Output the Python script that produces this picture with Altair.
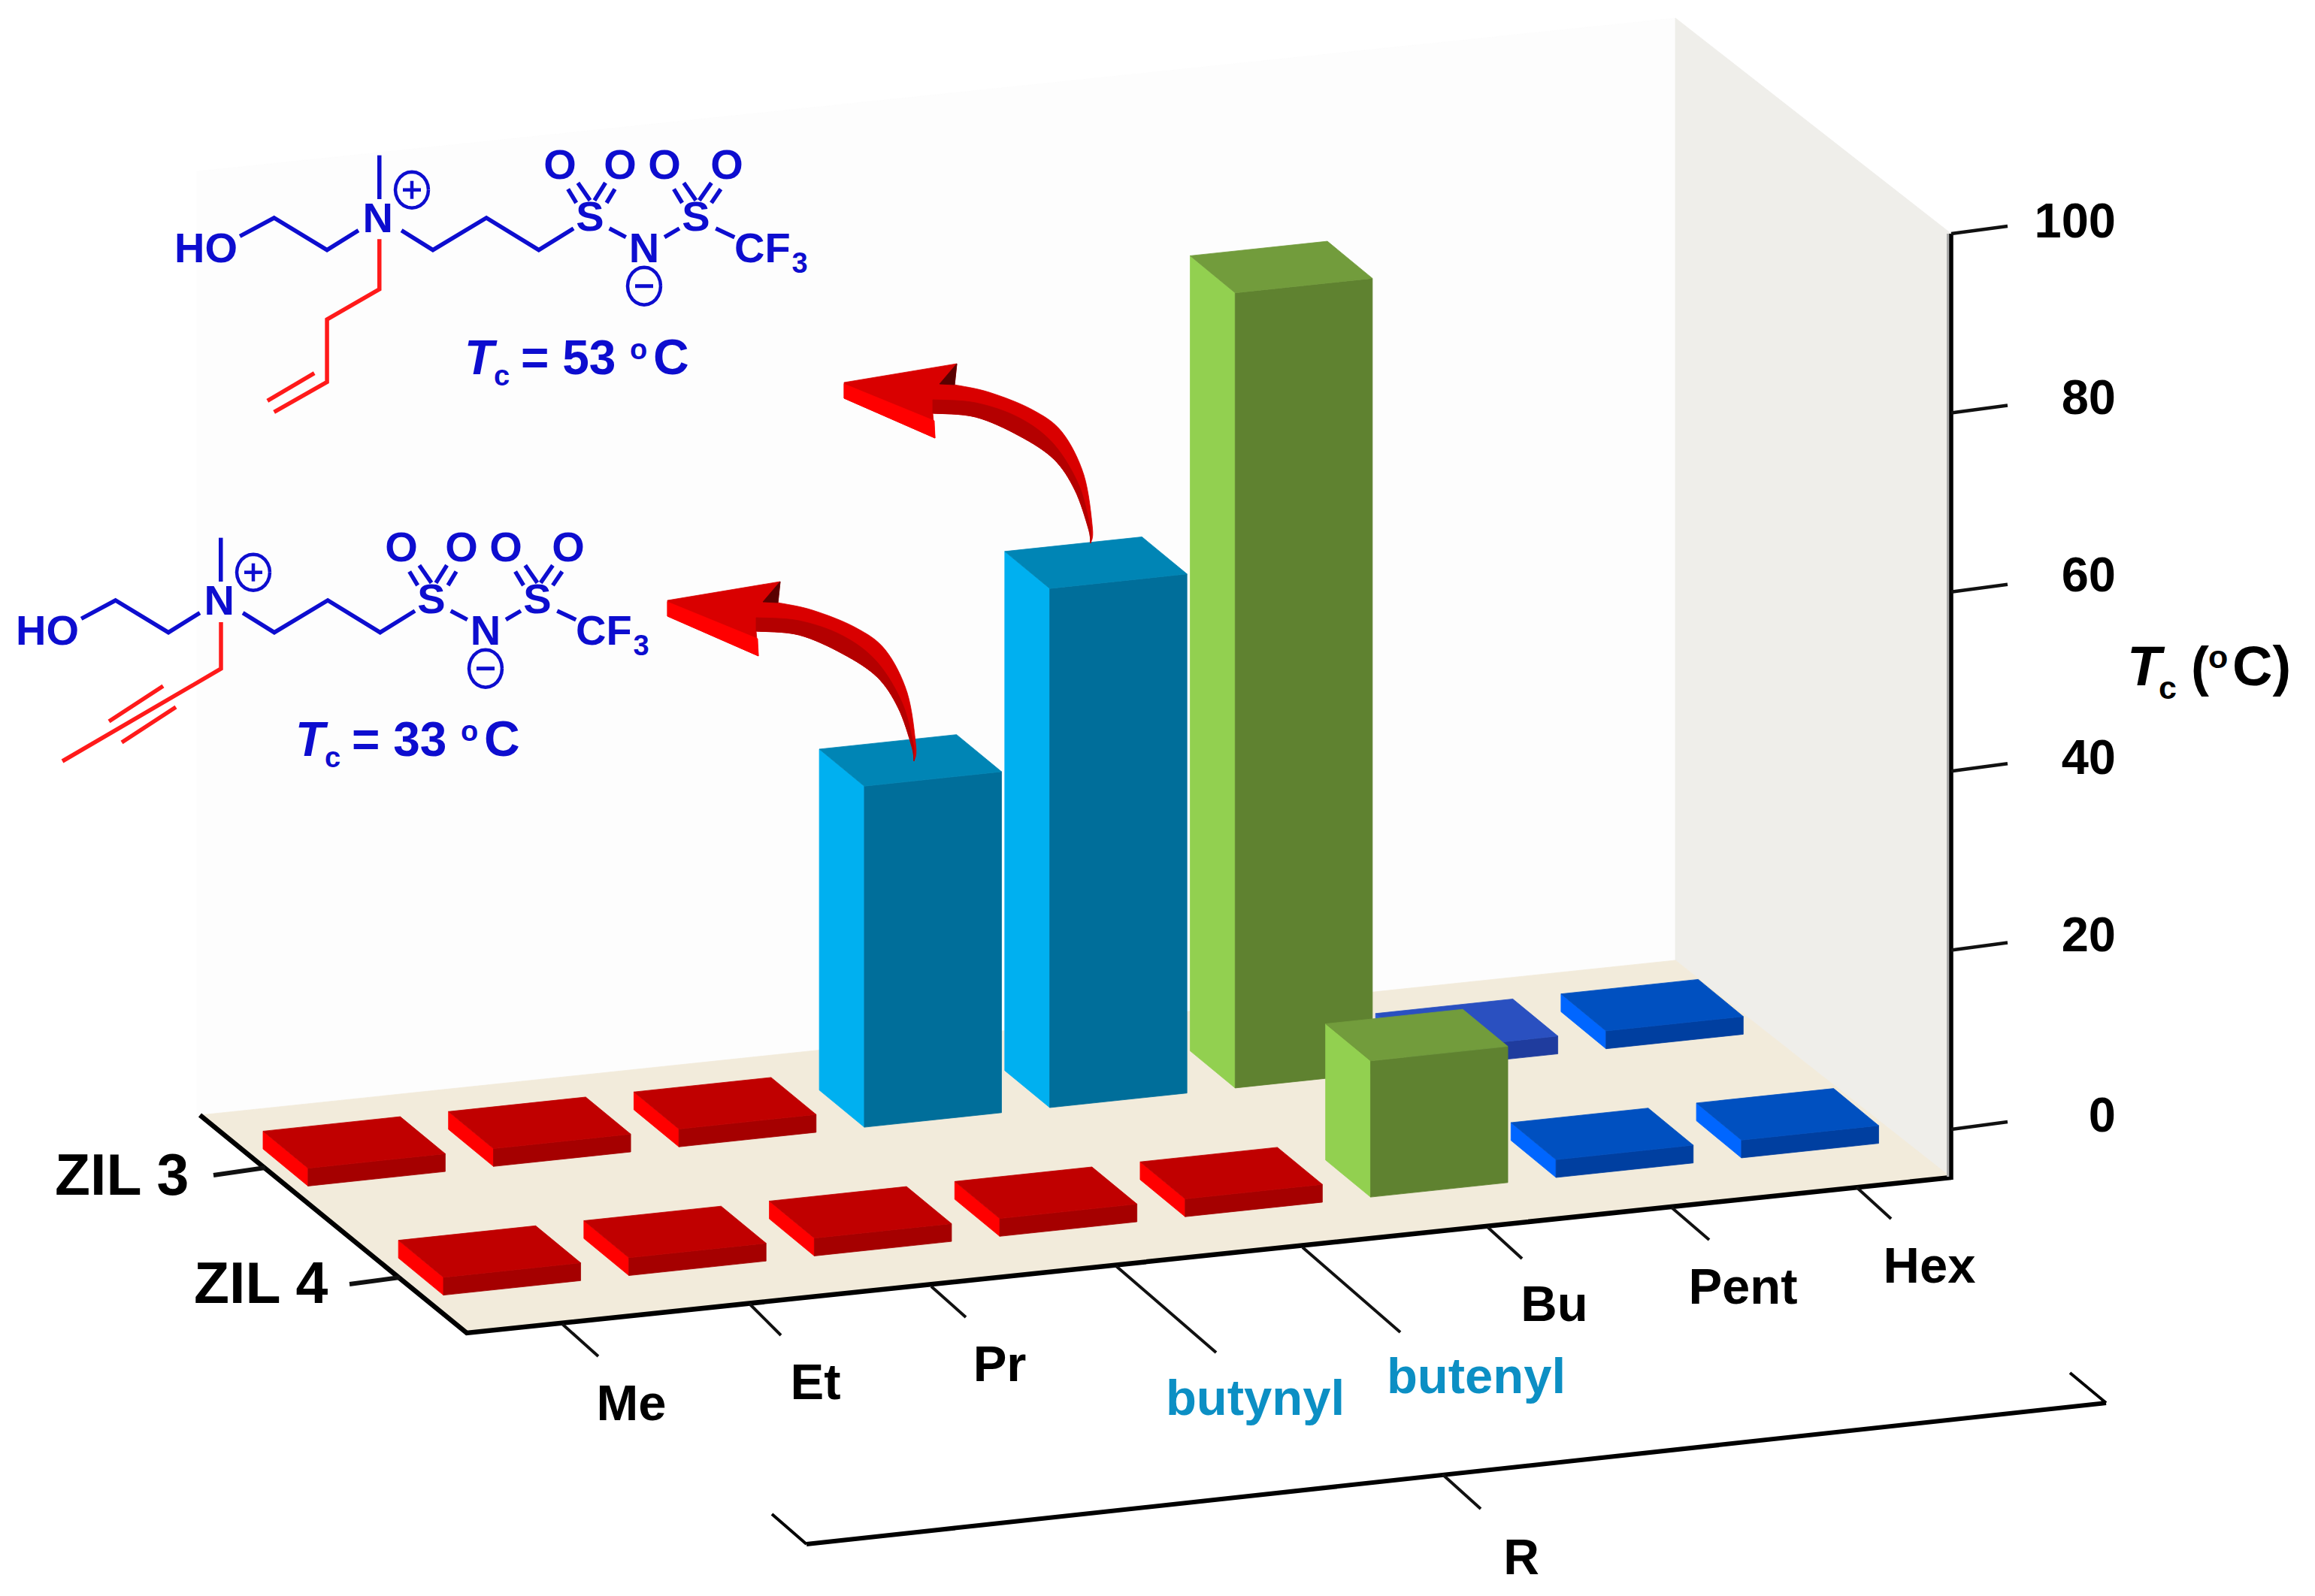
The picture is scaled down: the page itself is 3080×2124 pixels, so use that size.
import altair as alt

W, H = 3064, 2108
FONT = "Liberation Sans"

# ---------- chart values ----------
CATEGORIES = ["Me", "Et", "Pr", "butynyl", "butenyl", "Bu", "Pent", "Hex"]
ZIL3_VALUES = [-3.3, -3.3, -3.3, 33, 53, 84, -3.3, -3.3]
ZIL4_VALUES = [-3.3, -3.3, -3.3, -3.3, -3.3, 10, -3.3, -3.3]
ZIL3_COLORS = ["red", "red", "red", "teal", "teal", "green", "blue2", "blue"]
ZIL4_COLORS = ["red", "red", "red", "red", "red", "green", "blue", "blue"]
VALUE_TICKS = [0, 20, 40, 60, 80, 100]

PALETTE = {  # left, top, front
    "red": ("#FF0000", "#C00000", "#A50000"),
    "blue": ("#0066FF", "#0050C0", "#003FA0"),
    "blue2": ("#2A5AD8", "#2A50C0", "#1F3C9E"),
    "teal": ("#00B0F0", "#0085B5", "#006E9A"),
    "green": ("#92D050", "#729C3C", "#5F8230"),
}
BLUE = "#0D0DCF"
RED = "#FF1A1A"
BLACK = "#000000"
LABEL_TEAL = "#0C8FC4"

# ---------- oblique projection of the 3D axes ----------
V0 = -5.3


def P(i, d, v=V0):
    return [618 + 246.7 * i - 352 * d, 1774 - 26.1 * i - 290 * d - (v - V0) * 11.85]


def smooth(pts, n=8):
    """Round a measured outline through its points (Catmull-Rom)."""
    out = []
    for k in range(len(pts) - 1):
        p0 = pts[max(k - 1, 0)]
        p1, p2 = pts[k], pts[k + 1]
        p3 = pts[min(k + 2, len(pts) - 1)]
        for j in range(n):
            t = j / n
            out.append(tuple(0.5 * (2 * p1[a] + (p2[a] - p0[a]) * t
                                    + (2 * p0[a] - 5 * p1[a] + 4 * p2[a] - p3[a]) * t * t
                                    + (3 * p1[a] - p0[a] - 3 * p2[a] + p3[a]) * t ** 3) for a in (0, 1)))
    out.append(tuple(pts[-1]))
    return out


features = []


def poly(points, fill, stroke=None, sw=0.8):
    pts = [list(p) for p in points]
    pts.append(pts[0])
    features.append({"type": "Feature", "geometry": {"type": "Polygon", "coordinates": [pts]},
                     "properties": {"fill": fill, "stroke": stroke or fill, "sw": sw}})


def line(points, color, sw):
    features.append({"type": "Feature",
                     "geometry": {"type": "LineString", "coordinates": [list(p) for p in points]},
                     "properties": {"fill": "transparent", "stroke": color, "sw": sw}})


def bar(i0, d0, v, colors):
    left, top, front = colors
    i1, d1 = i0 + 0.74, d0 + 0.17
    poly([P(i0, d0), P(i0, d1), P(i0, d1, v), P(i0, d0, v)], left)
    poly([P(i0, d0), P(i1, d0), P(i1, d0, v), P(i0, d0, v)], front)
    poly([P(i0, d0, v), P(i1, d0, v), P(i1, d1, v), P(i0, d1, v)], top)


# ---------- walls and floor ----------
poly([(262, 1484), (262, 228), (2229, 24), (2229, 1278)], "#FDFDFD")
poly([(2229, 1278), (2229, 24), (2596, 311), (2596, 1568)], "#EFEEEA")
poly([(621, 1774), (2596, 1567), (2229, 1278), (266, 1484)], "#F2EBDB")

for k in range(len(CATEGORIES)):
    bar(k + 0.105, 0.665, ZIL3_VALUES[k], PALETTE[ZIL3_COLORS[k]])
for k in range(len(CATEGORIES)):
    bar(k + 0.119, 0.163, ZIL4_VALUES[k], PALETTE[ZIL4_COLORS[k]])

# ---------- axes ----------
line([(266, 1484), (621, 1774), (2596, 1567)], BLACK, 6.5)
line([(2592, 311), (2592, 1566)], "#AAAAAA", 4)
line([(2596, 311), (2596, 1570)], BLACK, 5.5)
for v in VALUE_TICKS:
    y = 1503 - v * 11.92
    line([(2596, y), (2671, y - 10)], "#111111", 4.5)
line([(284, 1564), (353, 1554)], "#111111", 6)
line([(465, 1709), (532, 1700)], "#111111", 6)
CAT_TICKS = [((748, 1762), (796, 1805)), ((997, 1735), (1039, 1777)), ((1239, 1712), (1285, 1753)),
             ((1485, 1685), (1618, 1800)), ((1733, 1660), (1863, 1773)), ((1979, 1633), (2025, 1675)),
             ((2224, 1607), (2274, 1650)), ((2470, 1580), (2516, 1622))]
for a, b in CAT_TICKS:
    line([a, b], "#111111", 4)
line([(1027, 2015), (1073, 2055)], BLACK, 4)
line([(2802, 1867), (2754, 1827)], BLACK, 4)
line([(1073, 2055), (2802, 1867)], BLACK, 6)
line([(1919, 1962), (1970, 2008)], "#111111", 4)

# ---------- curved arrows ----------
OUTER_EDGE = [(1451, 723), (1453.5, 703), (1442, 632), (1413, 575), (1373, 545), (1316, 522), (1270, 512)]
INNER_EDGE = [(1241, 550), (1298, 555), (1356, 580), (1402, 611), (1430, 652), (1448, 703), (1451, 723)]
BAND_EDGE = [(1241, 532), (1298, 536), (1356, 556), (1402, 591), (1436, 647), (1451, 705)]
HEAD = [(1273, 484), (1123, 509), (1123, 530), (1244, 583)]
ARROW_BEVEL = [(1123, 511), (1123, 530), (1244, 583), (1243, 560)]
ARROW_NOTCH = [(1273, 484), (1250, 511), (1270, 512)]
for dx, dy in [(0, 0), (-235, 290)]:
    outline = smooth(OUTER_EDGE) + HEAD + smooth(INNER_EDGE)
    band = smooth(BAND_EDGE) + smooth(INNER_EDGE)[::-1]
    for shape, col in [(outline, "#D90000"), (band, "#B40000"),
                       (ARROW_BEVEL, "#FF0000"), (ARROW_NOTCH, "#5A0000")]:
        poly([(x + dx, y + dy) for x, y in shape], col)


# ---------- molecules (bond ends measured on the reference) ----------
def m(px, py):
    return (px / 1.363, 150 + py / 3)


BLUE_BONDS = [
    [(435, 493), (497, 420), (593, 548), (650, 470)],
    [(728, 470), (785, 548), (882, 420), (977, 548), (1040, 462)],
    [(1105, 462), (1135, 497)], [(1205, 497), (1232, 462)], [(1298, 462), (1332, 497)],
    [(688, 170), (688, 345)],
    [(1030, 305), (1045, 360)], [(1048, 280), (1070, 350)], [(1098, 280), (1078, 350)], [(1115, 305), (1100, 360)],
    [(1222, 305), (1237, 360)], [(1240, 280), (1262, 350)], [(1290, 280), (1268, 350)], [(1307, 305), (1290, 360)],
]
RED_BUTENYL = [[(688, 505), (688, 705), (593, 825), (593, 1075), (497, 1195)], [(570, 1040), (485, 1150)]]
RED_BUTYNYL = [[(294, 828), (294, 890), (83, 1013)], [(217, 913), (145, 960)], [(234, 941), (162, 988)]]
COS = [1, .966, .866, .707, .5, .259, 0, -.259, -.5, -.707, -.866, -.966, -1, -.966, -.866, -.707, -.5, -.259, 0, .259, .5, .707, .866, .966]
SIN = COS[6:] + COS[:6]

for dx, dy, reds in [(0, 0, [[m(*p) for p in b] for b in RED_BUTENYL]), (-211, 509, RED_BUTYNYL)]:
    for b in BLUE_BONDS:
        line([(m(*p)[0] + dx, m(*p)[1] + dy) for p in b], BLUE, 5.5)
    for b in reds:
        line(b, RED, 5.5)
    cx, cy = 548 + dx, 252.7 + dy
    line([(cx + 22 * c, cy + 24 * s) for c, s in zip(COS + COS[:1], SIN + SIN[:1])], BLUE, 4.5)
    line([(cx - 12, cy), (cx + 12, cy)], BLUE, 4.5)
    line([(cx, cy - 12), (cx, cy + 12)], BLUE, 4.5)
    cx, cy = 857 + dx, 380.7 + dy
    line([(cx + 22 * c, cy + 25 * s) for c, s in zip(COS + COS[:1], SIN + SIN[:1])], BLUE, 4.5)
    line([(cx - 12, cy), (cx + 12, cy)], BLUE, 5)

# ---------- texts: (text, x, baseline, size, colour, bold, italic, align) ----------
texts = []
for lab, x, y, col in zip(CATEGORIES, [840, 1085, 1330, 1670, 1964, 2068, 2319, 2567],
                          [1890, 1862, 1838, 1883, 1854, 1758, 1735, 1707],
                          [BLACK, BLACK, BLACK, LABEL_TEAL, LABEL_TEAL, BLACK, BLACK, BLACK]):
    texts.append((lab, x, y, 67, col, True, False, "center"))
texts.append(("R", 2024, 2095, 66, BLACK, True, False, "center"))
for v, y in zip(VALUE_TICKS, [1506, 1266, 1030, 787, 551, 316]):
    texts.append((str(v), 2815, y, 65, BLACK, True, False, "right"))
texts.append(("ZIL 3", 73, 1590, 77, BLACK, True, False, "left"))
texts.append(("ZIL 4", 258, 1734, 77, BLACK, True, False, "left"))
texts += [("T", 2830, 912, 74, BLACK, True, True, "left"), ("c", 2872, 930, 43, BLACK, True, False, "left"),
          ("(", 2915, 912, 72, BLACK, True, False, "left"), ("o", 2938, 889, 43, BLACK, True, False, "left"),
          ("C)", 2970, 912, 74, BLACK, True, False, "left")]
for dx, dy in [(0, 0), (-211, 509)]:
    for s, x, y, size, al in [("HO", 232, 349, 56, "left"), ("N", 502.6, 309, 56, "center"),
                              ("S", 785, 307, 56, "center"), ("S", 926, 307, 56, "center"),
                              ("N", 857, 349, 56, "center"), ("CF", 977, 349, 56, "left"),
                              ("3", 1064, 363, 38, "center"),
                              ("O", 745, 238, 56, "center"), ("O", 825, 238, 56, "center"),
                              ("O", 884, 238, 56, "center"), ("O", 967, 238, 56, "center")]:
        texts.append((s, x + dx, y + dy, size, BLUE, True, False, al))
for dx, dy, tc in [(0, 0, "= 53"), (-225, 508, "= 33")]:
    texts += [("T", 618 + dx, 498 + dy, 64, BLUE, True, True, "left"),
              ("c", 657 + dx, 513 + dy, 38, BLUE, True, False, "left"),
              (tc, 693 + dx, 498 + dy, 64, BLUE, True, False, "left"),
              ("o", 838 + dx, 478 + dy, 38, BLUE, True, False, "left"),
              ("C", 869 + dx, 498 + dy, 66, BLUE, True, False, "left")]

# ---------- chart ----------
for idx, f in enumerate(features):
    f["properties"]["idx"] = idx
shapes = alt.Chart(alt.InlineData(values=features)).mark_geoshape().encode(
    fill=alt.Fill("properties.fill:N", scale=None),
    stroke=alt.Stroke("properties.stroke:N", scale=None),
    strokeWidth=alt.StrokeWidth("properties.sw:Q", scale=None),
    order=alt.Order("properties.idx:Q"),
).project(type="identity", scale=1, translate=[-8, -8])

x_enc = alt.X("x:Q", axis=None, scale=alt.Scale(domain=[8, 8 + W], range=[0, W]))
y_enc = alt.Y("y:Q", axis=None, scale=alt.Scale(domain=[8, 8 + H], range=[0, H]))

layers = [shapes]
keys = sorted({(t[5], t[6], t[7]) for t in texts})
for bold, italic, align in keys:
    rows = [{"t": t[0], "x": t[1], "y": t[2], "s": t[3], "c": t[4]} for t in texts
            if (t[5], t[6], t[7]) == (bold, italic, align)]
    layers.append(alt.Chart(alt.InlineData(values=rows)).mark_text(
        font=FONT, fontWeight="bold" if bold else "normal", fontStyle="italic" if italic else "normal",
        align=align, baseline="alphabetic",
    ).encode(x=x_enc, y=y_enc, text="t:N", size=alt.Size("s:Q", scale=None), color=alt.Color("c:N", scale=None)))

chart = alt.layer(*layers).properties(
    width=W, height=H, padding=0, background="white",
    autosize=alt.AutoSizeParams(type="none"),
).configure_view(stroke=None)

chart.save("out.html", embed_options={"renderer": "svg", "actions": False})
